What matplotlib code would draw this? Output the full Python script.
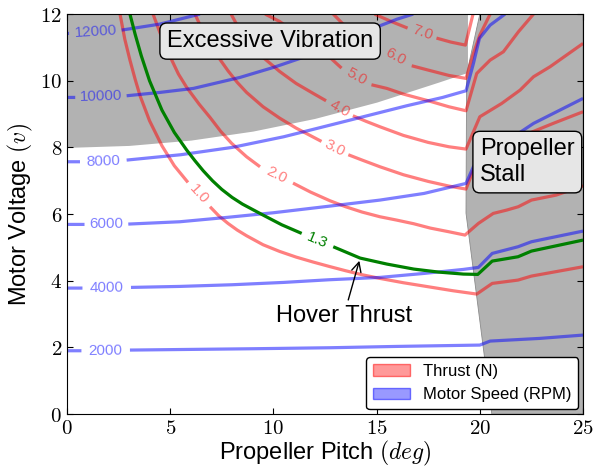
import numpy as np
import matplotlib
matplotlib.use('Agg')
import matplotlib.pyplot as plt
from matplotlib.patches import Patch

plt.rcParams['font.family'] = ['Liberation Sans', 'DejaVu Sans']
plt.rcParams['mathtext.fontset'] = 'cm'

nan = np.nan

# ---- data (pitch in deg, voltage in v) ----
# thrust contours (N); nan marks the gap where the inline label sits
thrust_levels = ['1.0', '2.0', '3.0', '4.0', '5.0', '6.0', '7.0']
t1_x = [2.57, 2.8, 3.05, 3.3, 3.54, 4.0, 4.6, 5.2, 5.86, nan, 6.93, 7.35, 7.8, 8.25, 8.7, 9.5, 10.3, 11.1,
        11.93, 12.7, 13.5, 14.3, 15.16, 16.3, 17.5, 18.7, 19.85, 20.6, 21.85, 22.5, 25]
t1_y = [12.0, 11.25, 10.62, 10.05, 9.55, 8.8, 8.05, 7.45, 6.95, nan, 6.22, 5.95, 5.72, 5.52, 5.35, 5.08, 4.88,
        4.71, 4.56, 4.43, 4.3, 4.18, 4.07, 3.94, 3.82, 3.7, 3.6, 3.92, 4.02, 4.14, 4.42]
t2_x = [4.17, 4.5, 5.0, 5.4, 5.8, 6.4, 6.93, 7.45, 7.98, 8.7, 9.35, nan, 10.95, 11.8, 12.74, 13.5, 14.3,
        15.16, 15.97, 16.8, 17.6, 18.5, 19.28, 19.93, 20.65, 21.3, 21.86, 22.5, 23.7, 25]
t2_y = [12.0, 11.45, 10.72, 10.2, 9.8, 9.3, 8.9, 8.48, 8.12, 7.72, 7.42, nan, 6.93, 6.66, 6.4, 6.22, 6.06,
        5.92, 5.82, 5.71, 5.58, 5.47, 5.37, 5.72, 6.02, 6.12, 6.22, 6.42, 6.57, 6.85]
t3_x = [6.2, 6.5, 6.93, 7.4, 7.8, 8.25, 8.7, 9.5, 10.3, 11.1, 12.33, nan, 13.63, 14.3, 15.16, 16.3, 17.5,
        18.5, 19.33, 19.69, 20.0, 20.6, 21.5, 22.4, 23.55, 25]
t3_y = [12.0, 11.6, 11.1, 10.65, 10.3, 9.95, 9.65, 9.22, 8.88, 8.58, 8.18, nan, 7.78, 7.62, 7.42, 7.18, 6.98,
        6.84, 6.75, 7.32, 7.7, 7.95, 8.15, 8.43, 8.72, 9.07]
t4_x = [7.95, 8.3, 8.7, 9.5, 10.3, 11.1, 11.93, 12.55, nan, 13.85, 14.5, 15.16, 16.3, 17.5, 18.5, 19.33,
        20.0, 21.06, 21.95, 22.6, 23.4, 25]
t4_y = [12.0, 11.6, 11.2, 10.7, 10.28, 9.92, 9.62, 9.4, nan, 8.95, 8.78, 8.62, 8.36, 8.15, 8.02, 7.95,
        8.92, 9.32, 9.72, 10.12, 10.42, 11.12]
t5_x = [9.6, 10.3, 11.1, 11.93, 12.7, 13.3, nan, 14.75, 15.5, 16.3, 17.5, 18.5, 19.33,
        19.85, 20.5, 21.14, 21.87, 22.6]
t5_y = [12.0, 11.78, 11.42, 11.06, 10.72, 10.38, nan, 9.88, 9.77, 9.6, 9.4, 9.22, 9.1,
        10.22, 10.62, 10.87, 11.47, 12.0]
t6_x = [12.9, 13.5, 14.3, 15.1, nan, 16.7, 17.5, 18.5, 19.33, 19.69, 20.0, 20.5]
t6_y = [12.0, 11.62, 11.28, 11.0, nan, 10.45, 10.32, 10.16, 10.07, 10.82, 11.37, 12.0]
t7_x = [14.9, 15.7, 16.5, nan, 17.9, 18.6, 19.3, 19.67]
t7_y = [12.0, 11.78, 11.58, nan, 11.28, 11.16, 11.07, 12.0]

# motor speed contours (RPM)
rpm_levels = ['2000', '4000', '6000', '8000', '10000', '12000']
r2_x = [0, 0.7, nan, 3.05, 6.0, 9.0, 12.74, 16.0, 20.0, 20.5, 22.9, 25]
r2_y = [1.9, 1.9, nan, 1.92, 1.94, 1.96, 1.99, 2.03, 2.07, 2.19, 2.27, 2.37]
r4_x = [0, 0.75, nan, 3.1, 5.47, 8.0, 10.5, 12.7, 15.16, 17.3, 19.2, 19.93, 20.6, 21.85, 22.5, 25]
r4_y = [3.78, 3.78, nan, 3.8, 3.83, 3.88, 3.95, 4.03, 4.1, 4.22, 4.34, 4.4, 4.82, 5.02, 5.17, 5.49]
r6_x = [0, 0.85, nan, 2.97, 5.47, 7.74, 10.0, 12.74, 15.16, 17.3, 19.33, 19.69, 20.2, 21.0, 21.87, 22.6, 25]
r6_y = [5.69, 5.69, nan, 5.7, 5.77, 5.9, 6.04, 6.24, 6.42, 6.62, 6.92, 7.42, 7.85, 8.15, 8.42, 8.72, 9.47]
r8_x = [0, 0.63, nan, 2.89, 5.5, 8.0, 10.5, 13.2, 16.46, 18.2, 19.33, 19.69, 19.98, 20.5, 21.22]
r8_y = [7.57, 7.57, nan, 7.62, 7.78, 8.0, 8.32, 8.74, 9.25, 9.5, 9.7, 10.52, 11.27, 11.67, 12.0]
r10_x = [0, 0.4, nan, 2.89, 4.5, 6.12, 8.38, 10.0, 11.43, 13.0, 14.2, 15.16, 16.0, 16.77]
r10_y = [9.5, 9.5, nan, 9.55, 9.65, 9.77, 10.1, 10.4, 10.7, 11.05, 11.38, 11.65, 11.85, 12.0]
r12_x = [0, 0.1, nan, 2.65, 4.5, 6.44]
r12_y = [11.42, 11.42, nan, 11.52, 11.7, 12.0]

# hover thrust (1.3 N)
hover_x = [3.05, 3.3, 3.6, 4.0, 4.6, 5.2, 5.8, 6.2, 6.6, 7.05, 7.5, 8.0, 8.5, 9.5, 10.4, 11.37, nan, 12.9,
           14.2, 15.5, 16.8, 18.0, 19.2, 19.9, 20.6, 21.85, 22.5, 25]
hover_y = [12.0, 11.4, 10.75, 10.0, 9.12, 8.45, 7.92, 7.6, 7.3, 7.0, 6.74, 6.5, 6.3, 5.97, 5.68, 5.42, nan, 5.02,
           4.68, 4.5, 4.35, 4.26, 4.2, 4.19, 4.59, 4.72, 4.89, 5.22]

# shaded regions
vib_x = [0, 3, 6, 9, 12, 15, 18, 19.4]
vib_y = [8.0, 8.06, 8.22, 8.49, 8.87, 9.36, 9.96, 10.25]
stall_x = [20.0, 19.36, 19.33, 20.58, 25, 25]
stall_y = [12.0, 10.2, 6.03, 0, 0, 12.0]

fig = plt.figure(figsize=(5.98, 4.70), dpi=100)
ax = fig.add_axes([0.112, 0.119, 0.863, 0.851])
ax.set_xlim(0, 25)
ax.set_ylim(0, 12)

gray = '#b2b2b2'
ax.fill_between(vib_x, vib_y, 12, color=gray, lw=0, zorder=1)
ax.fill(stall_x, stall_y, facecolor=gray, edgecolor='#8c8c8c', lw=0.6, zorder=1)


def draw_line(xs, ys, text, color, alpha, lw=2.3, fs=11):
    x = np.array(xs, dtype=float)
    y = np.array(ys, dtype=float)
    ax.plot(x, y, color=color, alpha=alpha, lw=lw, zorder=2, solid_capstyle='butt')
    i = np.where(np.isnan(x))[0][0]
    a = ax.transData.transform((x[i - 1], y[i - 1]))
    b = ax.transData.transform((x[i + 1], y[i + 1]))
    ang = np.degrees(np.arctan2(b[1] - a[1], b[0] - a[0]))
    ax.text((x[i - 1] + x[i + 1]) / 2, (y[i - 1] + y[i + 1]) / 2, text, rotation=ang,
            rotation_mode='anchor', ha='center', va='center', fontsize=fs,
            color=color, alpha=alpha, zorder=3)


thrust_x = [t1_x, t2_x, t3_x, t4_x, t5_x, t6_x, t7_x]
thrust_y = [t1_y, t2_y, t3_y, t4_y, t5_y, t6_y, t7_y]
for lab, xs, ys in zip(thrust_levels, thrust_x, thrust_y):
    draw_line(xs, ys, lab, 'red', 0.5)

rpm_x = [r2_x, r4_x, r6_x, r8_x, r10_x, r12_x]
rpm_y = [r2_y, r4_y, r6_y, r8_y, r10_y, r12_y]
for lab, xs, ys in zip(rpm_levels, rpm_x, rpm_y):
    draw_line(xs, ys, lab, 'blue', 0.5)

draw_line(hover_x, hover_y, '1.3', 'green', 1.0)

box = dict(boxstyle='round,pad=0.3', fc='#e6e6e6', ec='black', lw=1)
ax.text(9.84, 11.19, 'Excessive Vibration', fontsize=17, ha='center', va='center',
        bbox=box, zorder=5)
ax.text(22.3, 7.56, 'Propeller\nStall', fontsize=17, ha='center', va='center',
        multialignment='left', bbox=box, zorder=5)
ax.annotate('Hover Thrust', xy=(14.2, 4.68), xytext=(13.4, 2.93), fontsize=17,
            ha='center', va='center', zorder=5,
            arrowprops=dict(arrowstyle='->', color='black', lw=1))

handles = [Patch(facecolor=(1, 0, 0, 0.4), edgecolor=(1, 0, 0, 0.5)),
           Patch(facecolor=(0, 0, 1, 0.4), edgecolor=(0, 0, 1, 0.5))]
leg = ax.legend(handles, ['Thrust (N)', 'Motor Speed (RPM)'], loc='lower right',
                fontsize=12, framealpha=1, edgecolor='black', fancybox=True,
                handlelength=2.2, borderaxespad=0.3)
leg.set_zorder(6)

xticks = [0, 5, 10, 15, 20, 25]
yticks = [0, 2, 4, 6, 8, 10, 12]
ax.set_xticks(xticks)
ax.set_yticks(yticks)
ax.set_xticklabels(['$%d$' % t for t in xticks])
ax.set_yticklabels(['$%d$' % t for t in yticks])
ax.tick_params(direction='in', top=True, right=True, length=4, labelsize=15)
ax.set_xlabel('Propeller Pitch $(deg)$', fontsize=17, labelpad=1)
ax.set_ylabel('Motor Voltage $(v)$', fontsize=17)

fig.savefig('out.png', dpi=100)
